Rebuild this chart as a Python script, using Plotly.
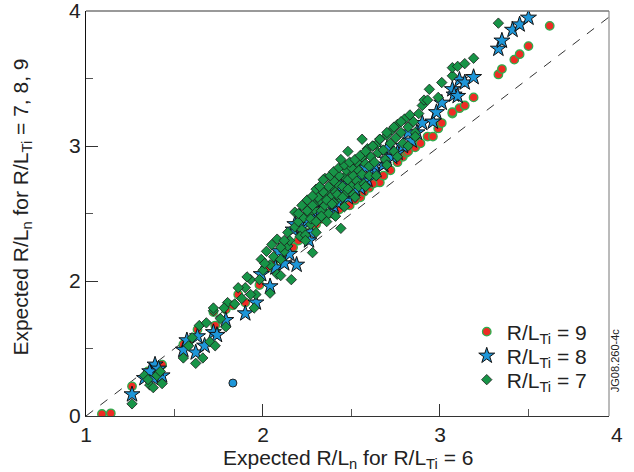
import plotly.graph_objects as go

# ---- data ----
x9 = [1.09, 1.14, 1.26, 1.35, 1.39, 1.43, 1.55, 1.58, 1.63, 1.73, 1.79, 1.72, 1.83, 1.90, 1.98,
      2.03, 2.11, 2.14, 2.20, 2.25, 2.30, 2.35, 2.40, 2.45, 2.49, 2.55, 2.60, 2.64, 2.66, 2.68,
      2.72, 2.76, 2.79, 2.81, 2.82, 2.86, 2.89, 2.93, 2.96, 2.99, 3.00, 3.01, 3.07, 3.07, 3.11,
      3.14, 3.19, 3.33, 3.35, 3.42, 3.45, 3.50, 3.62, 2.28, 2.33, 2.38, 2.43, 2.52, 2.57, 2.62,
      1.86, 2.06, 2.17, 2.22]
y9 = [1.015, 1.02, 1.22, 1.33, 1.35, 1.38, 1.53, 1.55, 1.64, 1.67, 1.79, 1.77, 1.82, 1.84, 1.97,
      2.10, 2.16, 2.21, 2.30, 2.36, 2.42, 2.47, 2.51, 2.55, 2.56, 2.62, 2.69, 2.73, 2.73, 2.78,
      2.82, 2.88, 2.92, 2.95, 2.96, 2.99, 3.02, 3.07, 3.07, 3.13, 3.17, 3.17, 3.24, 3.25, 3.28,
      3.30, 3.36, 3.53, 3.57, 3.64, 3.68, 3.74, 3.89, 2.42, 2.46, 2.50, 2.53, 2.60, 2.66, 2.72,
      1.90, 2.12, 2.25, 2.34]

x8 = [1.26, 1.33, 1.38, 1.39, 1.43, 1.36, 1.41, 1.55, 1.57, 1.62, 1.63, 1.67, 1.72, 1.74, 1.79,
      1.90, 1.96, 2.04, 2.07, 2.12, 2.19, 2.17, 2.18, 2.22, 2.27, 2.30, 2.34, 2.38, 2.40, 2.44,
      2.48, 2.50, 2.55, 2.59, 2.62, 2.64, 2.68, 2.70, 2.73, 2.76, 2.79, 2.84, 2.87, 2.90, 2.96,
      2.98, 3.01, 3.07, 3.08, 3.10, 3.11, 3.14, 3.19, 3.33, 3.35, 3.41, 3.45, 3.50, 2.25, 2.32,
      2.36, 2.42, 2.46, 2.52, 2.57, 2.26, 2.28, 2.47, 2.55, 2.63, 2.21, 2.33, 2.44, 2.58, 2.70,
      2.82, 1.99, 2.09, 2.15]
y8 = [1.16, 1.28, 1.28, 1.38, 1.30, 1.33, 1.35, 1.49, 1.56, 1.47, 1.59, 1.52, 1.62, 1.60, 1.71,
      1.76, 1.84, 1.96, 2.10, 2.13, 2.12, 2.38, 2.42, 2.40, 2.36, 2.48, 2.55, 2.50, 2.55, 2.62,
      2.62, 2.66, 2.69, 2.75, 2.80, 2.82, 2.86, 2.90, 2.92, 2.95, 3.00, 3.04, 3.10, 3.17, 3.18,
      3.25, 3.32, 3.42, 3.38, 3.37, 3.49, 3.47, 3.51, 3.72, 3.78, 3.86, 3.90, 3.95, 2.45, 2.50,
      2.58, 2.58, 2.66, 2.68, 2.74, 2.30, 2.52, 2.72, 2.78, 2.86, 2.48, 2.62, 2.70, 2.84, 2.98,
      3.10, 2.05, 2.22, 2.20]

x7 = [1.26, 1.33, 1.36, 1.38, 1.43, 1.40, 1.35, 1.42, 1.55, 1.58, 1.60, 1.62, 1.66, 1.64, 1.68,
      1.70, 1.73, 1.72, 1.76, 1.79, 1.80, 1.72, 1.78, 1.84, 1.88, 1.90, 1.93, 1.95, 1.98, 1.96,
      2.00, 2.02, 2.04, 2.04, 2.06, 2.08, 2.10, 2.10, 2.12, 2.14, 2.16, 2.15, 2.14, 2.18, 2.18,
      2.20, 2.22, 2.23, 2.24, 2.26, 2.27, 2.28, 2.29, 2.30, 2.31, 2.32, 2.33, 2.34, 2.35, 2.36,
      2.37, 2.38, 2.39, 2.40, 2.41, 2.42, 2.43, 2.44, 2.45, 2.46, 2.47, 2.48, 2.49, 2.50, 2.51,
      2.52, 2.53, 2.54, 2.55, 2.56, 2.57, 2.58, 2.59, 2.60, 2.61, 2.62, 2.63, 2.64, 2.65, 2.66,
      2.68, 2.70, 2.72, 2.73, 2.75, 2.76, 2.78, 2.80, 2.82, 2.83, 2.85, 2.88, 2.90, 2.91, 2.93,
      2.94, 2.99, 3.01, 3.07, 3.07, 3.10, 3.14, 3.19, 3.33, 2.25, 2.28, 2.31, 2.34, 2.37, 2.40,
      2.43, 2.47, 2.50, 2.53, 2.56, 2.21, 2.24, 2.27, 2.30, 2.33, 2.36, 2.39, 2.42, 2.45, 2.48,
      2.51, 2.54, 2.57, 2.60, 2.69, 2.74, 2.79, 2.86,
      2.20, 2.22, 2.25, 2.28, 2.30, 2.32, 2.35, 2.38, 2.40, 2.43, 2.46, 2.49, 2.52, 2.55, 2.58,
      2.62, 2.66, 2.70, 2.74, 2.78, 2.24, 2.30, 2.36, 2.41, 2.46, 2.52, 2.58, 2.64, 2.70, 2.76,
      2.82, 2.86, 2.05, 2.08, 2.10, 1.99, 1.93, 1.86, 2.34, 2.44, 2.56, 2.48, 1.91, 2.01, 2.12]
y7 = [1.09, 1.30, 1.23, 1.21, 1.24, 1.30, 1.27, 1.33, 1.43, 1.52, 1.58, 1.39, 1.43, 1.67, 1.69,
      1.55, 1.52, 1.78, 1.72, 1.66, 1.84, 1.80, 1.80, 1.83, 1.87, 1.95, 2.01, 1.80, 2.01, 1.90,
      2.08, 2.22, 1.91, 2.12, 2.18, 2.05, 2.16, 2.04, 2.22, 2.26, 2.01, 2.30, 2.36, 2.51, 2.40,
      2.44, 2.38, 2.47, 2.55, 2.50, 2.42, 2.21, 2.53, 2.58, 2.46, 2.60, 2.52, 2.64, 2.56, 2.67,
      2.50, 2.62, 2.70, 2.58, 2.66, 2.72, 2.62, 2.39, 2.70, 2.77, 2.65, 2.75, 2.82, 2.70, 2.78,
      2.86, 2.74, 2.82, 2.90, 2.79, 2.88, 2.94, 2.98, 2.85, 2.92, 3.00, 2.88, 3.01, 2.95, 3.05,
      2.97, 3.08, 3.02, 3.12, 3.06, 3.16, 3.10, 3.20, 3.14, 3.23, 3.18, 3.24, 3.30, 3.34, 3.34,
      3.42, 3.36, 3.47, 3.52, 3.58, 3.59, 3.61, 3.65, 3.91, 2.52, 2.56, 2.62, 2.66, 2.70, 2.74,
      2.78, 2.82, 2.84, 2.88, 2.92, 2.33, 2.34, 2.46, 2.44, 2.48, 2.60, 2.57, 2.64, 2.62, 2.68,
      2.64, 2.70, 2.72, 2.78, 2.90, 2.96, 3.02, 3.10,
      2.50, 2.56, 2.60, 2.63, 2.68, 2.70, 2.76, 2.78, 2.81, 2.84, 2.86, 2.88, 2.90, 2.93, 2.96,
      3.00, 3.05, 3.10, 3.14, 3.18, 2.30, 2.36, 2.44, 2.48, 2.55, 2.62, 2.70, 2.78, 2.86, 2.92,
      3.00, 3.07, 2.27, 2.31, 2.25, 2.16, 1.90, 1.95, 2.75, 2.90, 3.05, 2.96, 2.03, 2.13, 2.30]

x_out = [1.83]
y_out = [1.244]

diag = [1, 4]

FONT = "Liberation Sans, Arial, sans-serif"

fig = go.Figure()
fig.add_trace(go.Scatter(x=diag, y=diag, mode="lines", showlegend=False,
                         line=dict(color="#333333", width=1, dash="dash"), hoverinfo="skip"))
fig.add_trace(go.Scatter(x=x9, y=y9, mode="markers", name="R/L<sub>Ti</sub> = 9",
                         legend="legend",
                         marker=dict(symbol="circle", size=8.5, color="#ee2b24",
                                     line=dict(color="#2fae4e", width=1.3))))
fig.add_trace(go.Scatter(x=x8, y=y8, mode="markers", name="R/L<sub>Ti</sub> = 8",
                         legend="legend2",
                         marker=dict(symbol="star", size=12, color="#1e96d8",
                                     line=dict(color="#111111", width=1))))
fig.add_trace(go.Scatter(x=x7, y=y7, mode="markers", name="R/L<sub>Ti</sub> = 7",
                         legend="legend3",
                         marker=dict(symbol="diamond", size=8, color="#179447",
                                     line=dict(color="#1a1a1a", width=0.8))))
fig.add_trace(go.Scatter(x=x_out, y=y_out, mode="markers", showlegend=False,
                         marker=dict(symbol="circle", size=8, color="#1e96d8",
                                     line=dict(color="#222222", width=1))))

leg_common = dict(x=0.728, xanchor="left", yanchor="middle", bgcolor="rgba(0,0,0,0)",
                  font=dict(size=21), itemsizing="trace")

fig.update_layout(
    width=634, height=472,
    margin=dict(l=86, r=25, t=11, b=56),
    paper_bgcolor="white", plot_bgcolor="white",
    font=dict(family=FONT, size=18, color="#222222"),
    showlegend=True,
    legend=dict(y=0.2074, **leg_common),
    legend2=dict(y=0.148, **leg_common),
    legend3=dict(y=0.0889, **leg_common),
    xaxis=dict(range=[1, 3.955], tickvals=[1, 2, 3], ticktext=["1", "2", "3"],
               ticks="inside", ticklen=12, tickcolor="#333333", tickwidth=1,
               minor=dict(dtick=0.5, tick0=1, ticks="inside", ticklen=7, tickcolor="#555555"),
               showgrid=False, zeroline=False, showline=True, linecolor="#333333",
               linewidth=1, tickfont=dict(size=21), automargin=False,
               ticklabeloverflow="allow", ticklabelstandoff=0),
    yaxis=dict(range=[1, 4], tickvals=[1, 2, 3, 4], ticktext=["0", "2", "3", "4"],
               ticks="inside", ticklen=12, tickcolor="#333333", tickwidth=1,
               minor=dict(dtick=0.5, tick0=1, ticks="inside", ticklen=7, tickcolor="#555555"),
               showgrid=False, zeroline=False, showline=True, linecolor="#111111",
               linewidth=1, tickfont=dict(size=21), automargin=False,
               ticklabeloverflow="allow"),
    shapes=[
        dict(type="line", xref="paper", yref="paper", x0=0, x1=1, y0=1, y1=1,
             line=dict(color="#777777", width=1.5)),
        dict(type="line", xref="paper", yref="paper", x0=1, x1=1, y0=0, y1=1,
             line=dict(color="#777777", width=1)),
    ],
    annotations=[
        dict(text="Expected R/L<sub>n</sub> for R/L<sub>Ti</sub> = 6", xref="paper", yref="paper",
             x=0.50, y=-0.106, xanchor="center", yanchor="middle", showarrow=False,
             font=dict(size=21)),
        dict(text="Expected R/L<sub>n</sub> for R/L<sub>Ti</sub> = 7, 8, 9", xref="paper",
             yref="paper", x=-0.122, y=0.515, xanchor="center", yanchor="middle",
             textangle=-90, showarrow=False, font=dict(size=21)),
        dict(text="4", xref="paper", yref="paper", x=1.0153, y=-0.045, xanchor="center",
             yanchor="middle", showarrow=False, font=dict(size=21)),
        dict(text="JG08.260-4c", xref="paper", yref="paper", x=1.012, y=0.136,
             xanchor="center", yanchor="middle", textangle=-90, showarrow=False,
             font=dict(size=11)),
    ],
)

fig.write_html("out.html", config={"displayModeBar": False},
               post_script="document.body.style.margin='0px';")
